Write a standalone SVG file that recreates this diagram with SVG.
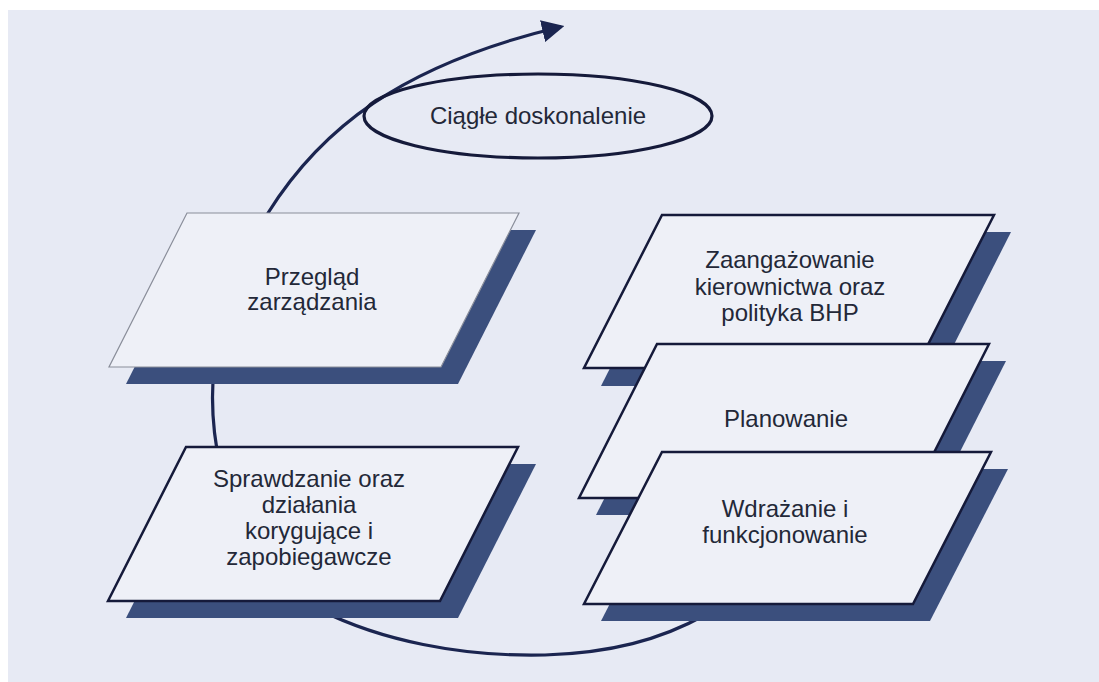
<svg xmlns="http://www.w3.org/2000/svg" width="1099" height="682" viewBox="0 0 1099 682">
<defs>
<style>
.bg{fill:#e7eaf4}
.shadow{fill:#3b4f7d}
.box{fill:#eef0f7;stroke:#151a3a;stroke-width:2.5;stroke-linejoin:miter}
.box-thin{fill:#eef0f7;stroke:#8a8e9a;stroke-width:1.2}
.lbl{font-family:"Liberation Sans",Arial,sans-serif;font-size:24px;fill:#232838;text-anchor:middle}
.conn{fill:none;stroke:#1b2550;stroke-width:3.2;stroke-linecap:round}
</style>
<marker id="arrow" viewBox="0 0 10 10" refX="8" refY="5" markerWidth="7" markerHeight="7" markerUnits="strokeWidth" orient="auto">
<path d="M0,0 L10,5 L0,10 z" fill="#1b2550"/>
</marker>
</defs>
<rect x="0" y="0" width="1099" height="682" fill="#ffffff"/>
<rect class="bg" x="8" y="10" width="1091" height="672"/>

<g id="connectors">
<path class="conn" d="M268,213 C320,130 400,65 560,27" marker-end="url(#arrow)"/>
<path class="conn" d="M213,380 Q211,415 217,450"/>
<path class="conn" d="M320,610 C380,640 460,657 545,655 C610,653 660,640 705,615"/>
</g>

<g id="node-ciagle">
<ellipse cx="538" cy="116" rx="174" ry="42" fill="none" stroke="#151a3a" stroke-width="3.2"/>
<text class="lbl" x="538" y="124">Ciągłe doskonalenie</text>
</g>

<g id="node-przeglad">
<polygon class="shadow" points="204,230 536,230 458,384 126,384"/>
<polygon class="box-thin" points="187,213 519,213 441,367 109,367"/>
<text class="lbl" x="312" y="285">Przegląd</text>
<text class="lbl" x="312" y="310">zarządzania</text>
</g>

<g id="node-sprawdzanie">
<polygon class="shadow" points="204,464 536,464 458,618 126,618"/>
<polygon class="box" points="186,447 518,447 440,601 108,601"/>
<text class="lbl" x="309" y="487">Sprawdzanie oraz</text>
<text class="lbl" x="309" y="513">działania</text>
<text class="lbl" x="309" y="539">korygujące i</text>
<text class="lbl" x="309" y="565">zapobiegawcze</text>
</g>

<g id="node-zaangazowanie">
<polygon class="shadow" points="679,232 1011,232 933,386 601,386"/>
<polygon class="box" points="662,215 994,215 916,368 584,368"/>
<text class="lbl" x="790" y="268">Zaangażowanie</text>
<text class="lbl" x="790" y="294.5">kierownictwa oraz</text>
<text class="lbl" x="790" y="321">polityka BHP</text>
</g>

<g id="node-planowanie">
<polygon class="shadow" points="674,361 1006,361 928,515 596,515"/>
<polygon class="box" points="657,344 989,344 911,498 579,498"/>
<text class="lbl" x="786" y="427">Planowanie</text>
</g>

<g id="node-wdrazanie">
<polygon class="shadow" points="679,469 1008,469 930,621 601,621"/>
<polygon class="box" points="662,452 991,452 913,604 584,604"/>
<text class="lbl" x="785" y="517">Wdrażanie i</text>
<text class="lbl" x="785" y="543">funkcjonowanie</text>
</g>
</svg>
